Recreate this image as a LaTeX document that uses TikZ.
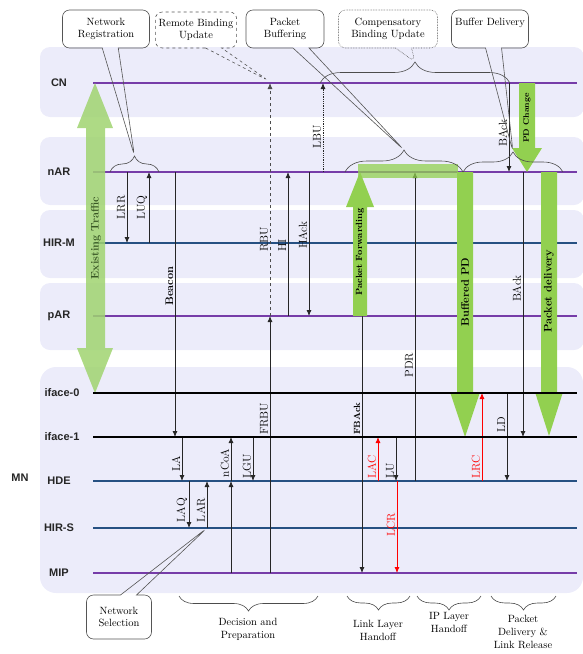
\documentclass[tikz,border=0pt]{standalone}
\usepackage{fontspec}
\setsansfont{Liberation Sans}
\usepackage{xcolor}
\usepackage{tikz}
\usetikzlibrary{arrows.meta, positioning, calc, decorations.pathreplacing, shapes.callouts}

\definecolor{bandbg}{RGB}{236,236,250}
\definecolor{lanepurple}{RGB}{118,60,168}
\definecolor{laneblue}{RGB}{38,80,130}
\definecolor{pdgreen}{RGB}{146,208,80}
\definecolor{etgreen}{RGB}{160,212,112}
\definecolor{ettext}{RGB}{56,86,36}
\definecolor{callgray}{RGB}{85,85,85}

\begin{document}
\begin{tikzpicture}[
    x=1pt, y=-1pt,
    lane/.style={font=\sffamily\bfseries\fontsize{11}{13}\selectfont, text=black!85},
    life/.style={line width=2pt},
    msg/.style={-{Latex[length=6pt,width=5pt]}, line width=0.8pt, black!85},
    lbl/.style={rotate=90, above, inner sep=1.5pt, text=black, font=\fontsize{11.5}{12}\selectfont},
    fattext/.style={rotate=90, inner sep=0pt, font=\bfseries\fontsize{11}{12}\selectfont},
    callout/.style={rectangle callout, draw=callgray, line width=0.6pt, rounded corners=7pt,
      align=center, callout pointer width=16pt, font=\fontsize{10.5}{12}\selectfont},
    grp/.style={decorate, decoration={brace, amplitude=#1}, draw=black!70, line width=0.6pt},
    grp/.default=15pt,
    phase/.style={align=center, font=\fontsize{10.5}{13}\selectfont}
  ]
  \useasboundingbox (0,0) rectangle (582,654);

  % lane backgrounds
  \fill[bandbg, rounded corners=10pt] (40,47) rectangle (584,117);
  \fill[bandbg, rounded corners=10pt] (40,137) rectangle (584,205);
  \fill[bandbg, rounded corners=10pt] (40,210) rectangle (584,278);
  \fill[bandbg, rounded corners=10pt] (40,283) rectangle (584,350);
  \fill[bandbg, rounded corners=16pt] (40,367) rectangle (583,593);

  % lifelines
  \foreach \n/\t/\y/\c in {CN/CN/83/lanepurple, nAR/nAR/172/lanepurple,
      HIRM/HIR-M/243/laneblue, pAR/pAR/316/lanepurple, HDE/HDE/481/laneblue,
      HIRS/HIR-S/528/laneblue, MIP/MIP/573/lanepurple}{
    \node[lane] (l\n) at (59,\y) {\t};
    \coordinate (\n) at (93,\y);
    \draw[life, \c] (\n) -- (577,\y);
  }
  \node[lane] (lifaceA) at (62,393) {iface-0};
  \node[lane] (lifaceB) at (62,437) {iface-1};
  \coordinate (ifaceA) at (93,393);
  \coordinate (ifaceB) at (93,437);
  \node[lane] (lMN) at (20,478) {MN};

  % messages
  \draw[msg] (127,0 |- nAR) -- (127,0 |- HIRM) node[lbl, pos=.5] {LRR};
  \draw[msg] (149,0 |- HIRM) -- (149,0 |- nAR) node[lbl, pos=.5] {LUQ};
  \draw[msg] (175,0 |- nAR) -- (175,0 |- ifaceB) node[lbl, pos=.43, font=\bfseries\fontsize{11}{12}\selectfont] {Beacon};
  \draw[msg, dashed, black!70] (270,0 |- pAR) -- (270,0 |- CN) node[lbl, pos=.33] {RBU};
  \draw[msg] (270,0 |- MIP) -- (270,0 |- pAR) node[lbl, pos=.60] {FRBU};
  \draw[msg] (288,0 |- pAR) -- (288,0 |- nAR) node[lbl, pos=.49] {HI};
  \draw[msg] (309,0 |- nAR) -- (309,0 |- pAR) node[lbl, pos=.44] {HAck};
  \draw[msg, densely dotted] (323,0 |- nAR) -- (323,0 |- CN) node[lbl, pos=.40] {LBU};
  \draw[msg] (415,0 |- HDE) -- (415,0 |- nAR) node[lbl, pos=.375] {PDR};
  \draw[msg] (362,0 |- pAR) -- (362,0 |- MIP) node[lbl, pos=.40, font=\bfseries\fontsize{9}{10}\selectfont] {FBAck};
  \draw[msg, red] (378,0 |- HDE) -- (378,0 |- ifaceB) node[lbl, pos=.32, text=red] {LAC};
  \draw[msg] (396,0 |- ifaceB) -- (396,0 |- HDE) node[lbl, pos=.77] {LU};
  \draw[msg, red] (397,0 |- HDE) -- (397,0 |- MIP) node[lbl, pos=.48, text=red] {LCR};
  \draw[msg, red] (482,0 |- HDE) -- (482,0 |- ifaceA) node[lbl, pos=.16, text=red] {LRC};
  \draw[msg] (507,0 |- ifaceA) -- (507,0 |- HDE) node[lbl, pos=.36] {LD};
  \draw[msg] (509,0 |- CN) -- (509,0 |- nAR) node[lbl, pos=.56] {BAck};
  \draw[msg] (523,0 |- nAR) -- (523,0 |- ifaceB) node[lbl, pos=.44] {BAck};
  \draw[msg] (182,0 |- ifaceB) -- (182,0 |- HDE) node[lbl, pos=.6] {LA};
  \draw[msg] (189,0 |- HDE) -- (189,0 |- HIRS) node[lbl, pos=.62] {LAQ};
  \draw[msg] (207,0 |- HIRS) -- (207,0 |- HDE) node[lbl, pos=.38] {LAR};
  \draw[msg] (231,0 |- MIP) -- (231,0 |- HDE);
  \draw[msg] (231,0 |- HDE) -- (231,0 |- ifaceB) node[lbl, pos=.41] {nCoA};
  \draw[msg] (253,0 |- ifaceB) -- (253,0 |- HDE) node[lbl, pos=.66] {LGU};

  % traffic arrows
  \fill[etgreen, opacity=.85] (95,83) -- (113,128) -- (105,128) -- (105,348) -- (113,348)
    -- (95,393) -- (77,348) -- (86,348) -- (86,128) -- (77,128) -- cycle;
  \node[fattext, text=ettext] (exist) at (96,238) {Existing Traffic};
  \fill[pdgreen, opacity=.75] (358,164) rectangle (458,178);
  \fill[pdgreen] (353,316) -- (353,207) -- (346,207) -- (360,172) -- (374,207) -- (367,207) -- (367,316) -- cycle;
  \node[fattext, font=\bfseries\fontsize{9}{10}\selectfont] (pktfwd) at (360,252) {Packet Forwarding};
  \fill[pdgreen] (457,172) -- (473,172) -- (473,392) -- (480,392) -- (465,437) -- (450,392) -- (457,392) -- cycle;
  \node[fattext] (bufpd) at (465,292) {Buffered PD};
  \fill[pdgreen] (541,172) -- (557,172) -- (557,392) -- (563,392) -- (549,436) -- (535,392) -- (541,392) -- cycle;
  \node[fattext] (pktdel) at (549,291) {Packet delivery};
  \fill[pdgreen] (519,83) -- (535,83) -- (535,148) -- (542,148) -- (527,172) -- (512,148) -- (519,148) -- cycle;
  \node[fattext, font=\bfseries\fontsize{8}{9}\selectfont] (pdchg) at (527,118) {PD Change};

  % MN interfaces
  \draw[life, black] (ifaceA) -- (577,393);
  \draw[life, black] (ifaceB) -- (577,437);

  % braces
  \draw[grp=16pt] (110,172) -- (159,172);
  \draw[grp=22pt] (345,172) -- (463,172);
  \draw[grp=21pt] (320,83) -- (510,83);
  \draw[grp=20pt] (463,172) -- (563,172);
  \draw[grp=15pt] (318,596) -- (179,596);
  \draw[grp=14pt] (410,596) -- (347,596);
  \draw[grp=14pt] (481,596) -- (417,596);
  \draw[grp=14pt] (556,596) -- (491,596);
  \coordinate (regtip) at (134.5,156);
  \coordinate (buftip) at (404,150);
  \coordinate (comptip) at (415,62);
  \coordinate (deltip) at (513,152);
  \coordinate (rbutip) at (269,81);

  % callouts
  \node[callout, minimum width=87, minimum height=38, callout absolute pointer={(regtip)}] (netreg) at (106,29) {Network\\Registration};
  \node[callout, dashed, minimum width=81, minimum height=36, callout absolute pointer={(rbutip)}] (rbu) at (196,30) {Remote Binding\\Update};
  \node[callout, minimum width=78, minimum height=38, callout absolute pointer={(buftip)}] (pktbuf) at (285,29) {Packet\\Buffering};
  \node[callout, densely dotted, minimum width=99, minimum height=38, callout absolute pointer={(comptip)}] (compbu) at (388,29) {Compensatory\\Binding Update};
  \node[callout, minimum width=77, minimum height=38, text depth=14pt, callout absolute pointer={(deltip)}] (bufdel) at (490,29) {Buffer Delivery};
  \node[callout, minimum width=65, minimum height=44, callout absolute pointer={(207,0 |- HIRS)}] (netsel) at (119,617) {Network\\Selection};

  % phases
  \node[phase] (decprep) at (248,629) {Decision and\\Preparation};
  \node[phase] (llho) at (378,630) {Link Layer\\Handoff};
  \node[phase] (ipho) at (449,622) {IP Layer\\Handoff};
  \node[phase] (pdlr) at (523,632) {Packet\\Delivery \&\\Link Release};
\end{tikzpicture}
\end{document}
